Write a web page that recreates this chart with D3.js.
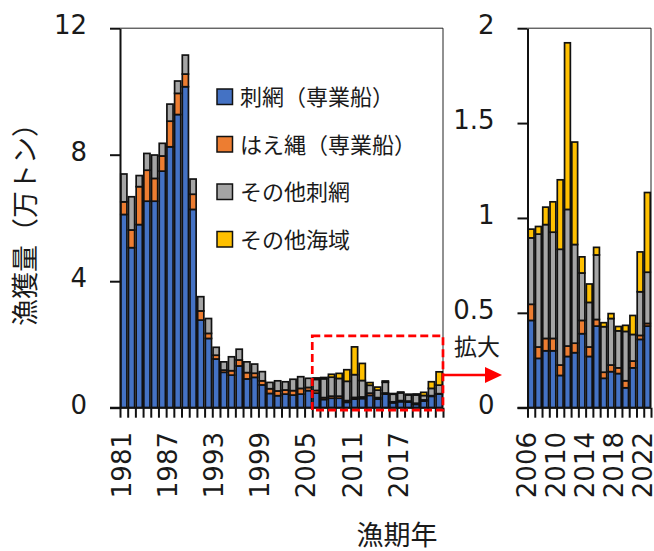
<!DOCTYPE html>
<html><head><meta charset="utf-8">
<script src="https://cdn.jsdelivr.net/npm/d3@7"></script>
<style>body{margin:0;background:#fff}</style>
</head><body>
<svg id="c" width="654" height="551" xmlns="http://www.w3.org/2000/svg"></svg>
<script>
// ---- data (万トン) ----
const years = [1981,1982,1983,1984,1985,1986,1987,1988,1989,1990,1991,1992,1993,1994,1995,1996,1997,1998,1999,2000,
  2001,2002,2003,2004,2005,2006,2007,2008,2009,2010,2011,2012,2013,2014,2015,2016,2017,2018,2019,2020,2021,2022];
const gillnetPro = [6.11,5.06,5.79,6.53,6.53,7.48,8.25,9.27,10.15,6.27,2.77,2.19,1.54,1.12,1.03,1.32,0.91,0.96,0.72,0.45,
  0.38,0.43,0.40,0.43,0.54,0.46,0.26,0.30,0.30,0.17,0.27,0.29,0.39,0.27,0.43,0.155,0.19,0.18,0.105,0.21,0.36,0.43];
const longlinePro = [0.40,0.56,1.20,0.98,0.72,0.48,0.81,0.67,0.40,0.48,0.29,0.16,0.12,0.07,0.14,0.19,0.20,0.13,0.13,0.15,
  0.15,0.13,0.14,0.18,0.10,0.085,0.06,0.065,0.065,0.055,0.055,0.05,0.07,0.05,0.035,0.032,0.035,0.03,0.037,0.036,0.021,0.014];
const otherGillnet = [0.88,1.05,0.35,0.53,0.74,0.40,0.54,0.39,0.60,0.48,0.45,0.47,0.25,0.26,0.44,0.34,0.34,0.29,0.29,0.20,
  0.32,0.26,0.36,0.37,0.29,0.35,0.595,0.60,0.56,0.61,0.72,0.52,0.25,0.235,0.34,0.24,0.245,0.195,0.26,0.14,0.23,0.27];
const otherArea = [0,0,0,0,0,0,0,0,0,0,0,0,0,0,0,0,0,0,0,0,
  0,0,0,0,0,0.046,0.04,0.092,0.16,0.366,0.878,0.54,0.085,0.097,0.04,0.021,0.026,0.023,0.032,0.10,0.21,0.42];
const seriesNames = ["刺網（専業船）","はえ縄（専業船）","その他刺網","その他海域"];
const seriesColors = ["#4472C4","#ED7D31","#A5A5A5","#FFC000"];
const leftYTicks = [0,4,8,12];
const rightYTicks = [0,0.5,1,1.5,2];
const leftXTickLabels = [1981,1987,1993,1999,2005,2011,2017];
const rightXTickLabels = [2006,2010,2014,2018,2022];
const zoomStart = 2006;

// ---- build ----
const keys = ["a","b","c","d"];
const rows = years.map((yr,i)=>({year:yr,a:gillnetPro[i],b:longlinePro[i],c:otherGillnet[i],d:otherArea[i]}));
const svg = d3.select("#c");
const numFont = "'DejaVu Sans', Verdana, sans-serif";
const jpFont = "'Noto Sans CJK JP', 'Noto Sans', sans-serif";
const txt = "#1a1a1a";
const yBottom = 407.7, yTop = 28.2;

function panel(data, x0, x1, yMax, yTicks, xLabels, fmt, labShift){
  const g = svg.append("g");
  const x = d3.scaleBand().domain(data.map(d=>d.year)).range([x0,x1]).paddingInner(0.2).paddingOuter(0.1);
  const y = d3.scaleLinear().domain([0,yMax]).range([yBottom,yTop]);
  const stacked = d3.stack().keys(keys)(data);
  // frame (thin top/right)
  g.append("path").attr("d",`M${x0},${yTop}H${x1}V${yBottom}`).attr("fill","none").attr("stroke","#222").attr("stroke-width",1);
  // bars
  g.selectAll("g.s").data(stacked).join("g").attr("fill",(d,i)=>seriesColors[i])
    .selectAll("rect").data(d=>d.filter(v=>v[1]-v[0]>0)).join("rect")
    .attr("x",d=>x(d.data.year)).attr("width",x.bandwidth())
    .attr("y",d=>y(d[1])).attr("height",d=>y(d[0])-y(d[1]))
    .attr("stroke","#111").attr("stroke-width",1.7);
  // y axis
  const ya = g.append("g").attr("transform",`translate(${x0},0)`)
    .call(d3.axisLeft(y).tickValues(yTicks).tickSize(10).tickSizeOuter(0).tickPadding(23).tickFormat(fmt));
  ya.select(".domain").attr("stroke","#111").attr("stroke-width",2);
  ya.selectAll(".tick line").attr("stroke","#111").attr("stroke-width",2);
  ya.selectAll(".tick text").attr("font-family",numFont).attr("font-size",26).attr("fill",txt).attr("dy","0.22em");
  // x axis ticks at category boundaries
  const n = data.length;
  const xb = d3.scaleLinear().domain([0,n]).range([x0,x1]);
  const xa = g.append("g").attr("transform",`translate(0,${yBottom})`)
    .call(d3.axisBottom(xb).tickValues(d3.range(n+1)).tickSize(10).tickSizeOuter(0).tickFormat(""));
  xa.select(".domain").attr("stroke","#111").attr("stroke-width",2).attr("d",`M${x0-10},0H${x1}`);
  xa.selectAll(".tick line").attr("stroke","#111").attr("stroke-width",2);
  // x labels
  g.selectAll("text.xl").data(xLabels).join("text").attr("class","xl")
    .attr("transform",d=>`translate(${x(d)+x.bandwidth()/2+labShift},432) rotate(-90)`)
    .attr("text-anchor","end").attr("dominant-baseline","central")
    .attr("font-family",numFont).attr("font-size",26).attr("fill",txt).text(d=>d);
  return {x,y};
}

const L = panel(rows, 120, 443, 12, leftYTicks, leftXTickLabels, d=>d, -2);
const R = panel(rows.filter(d=>d.year>=zoomStart), 527.5, 651, 2, rightYTicks, rightXTickLabels, d=>d, -4.5);

// dashed zoom box on left panel
const bx0 = L.x(zoomStart) - (L.x.step()-L.x.bandwidth())/2;
svg.append("rect").attr("x",bx0).attr("y",L.y(2.27)).attr("width",443-bx0).attr("height",yBottom+2.5-L.y(2.27))
  .attr("fill","none").attr("stroke","#FF0000").attr("stroke-width",2.7).attr("stroke-dasharray","8,4");
// arrow
svg.append("line").attr("x1",444).attr("x2",488).attr("y1",375).attr("y2",375).attr("stroke","#FF0000").attr("stroke-width",2.5);
svg.append("path").attr("d","M485,367L502,375L485,383Z").attr("fill","#FF0000");
svg.append("text").attr("x",477).attr("y",345).attr("text-anchor","middle").attr("dominant-baseline","central")
  .attr("font-family",jpFont).attr("font-size",23).attr("fill",txt).text("拡大");

// legend
const lg = svg.append("g");
seriesNames.forEach((name,i)=>{
  const cy = 95 + i*47.5;
  lg.append("rect").attr("x",217).attr("y",cy-6).attr("width",15.5).attr("height",15.5)
    .attr("fill",seriesColors[i]).attr("stroke","#111").attr("stroke-width",1.5);
  lg.append("text").attr("x",240).attr("y",cy).attr("dominant-baseline","central")
    .attr("font-family",jpFont).attr("font-size",22).attr("fill",txt).text(name);
});

// axis titles
svg.append("text").attr("transform","translate(23.5,218) rotate(-90)").attr("text-anchor","middle")
  .attr("dominant-baseline","central").attr("font-family",jpFont).attr("font-size",27).attr("fill",txt).text("漁獲量（万トン）");
svg.append("text").attr("x",397).attr("y",533).attr("text-anchor","middle").attr("dominant-baseline","central")
  .attr("font-family",jpFont).attr("font-size",27).attr("fill",txt).text("漁期年");
</script>
</body></html>
